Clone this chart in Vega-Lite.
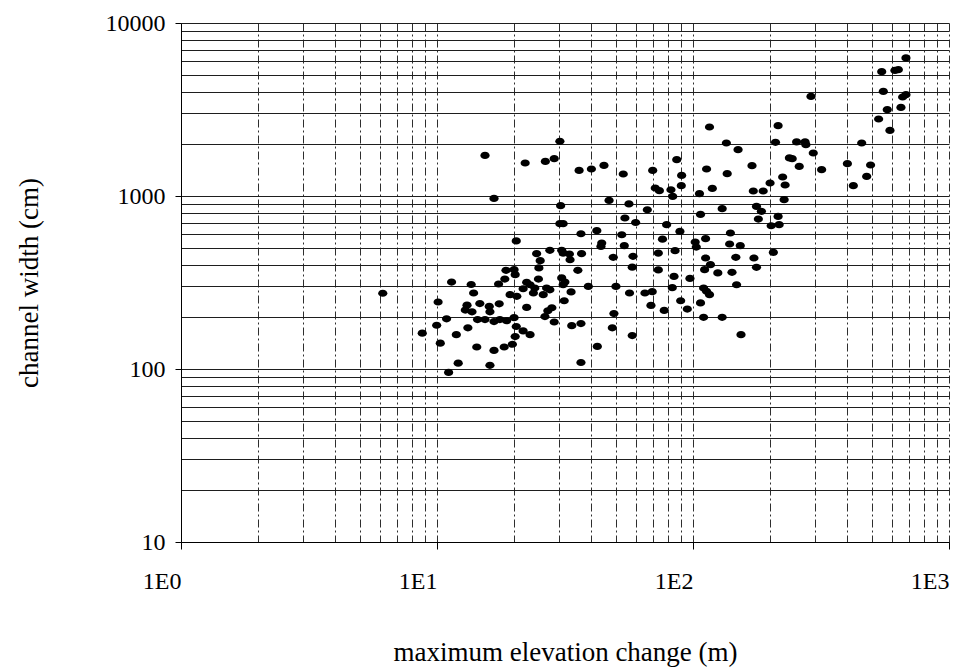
{
  "$schema": "https://vega.github.io/schema/vega-lite/v6.json",
  "width": 768,
  "height": 519,
  "autosize": {"type": "none"},
  "padding": {"left": 181, "top": 23, "right": 6, "bottom": 130},
  "background": "white",
  "config": {"view": {"stroke": null}},
  "data": {"values": [
    {"x":6.14,"y":274},
    {"x":11.4,"y":318},{"x":13.6,"y":308},{"x":13.9,"y":275},{"x":10.1,"y":244},{"x":13.1,"y":234},{"x":12.9,"y":219},{"x":13.7,"y":214},{"x":14.7,"y":239},{"x":16.0,"y":230},{"x":17.5,"y":238},{"x":16.1,"y":214},{"x":10.9,"y":195},{"x":14.4,"y":193},{"x":15.4,"y":193},{"x":16.7,"y":188},{"x":17.6,"y":193},{"x":18.7,"y":190},{"x":9.97,"y":179},{"x":13.2,"y":173},{"x":8.76,"y":161},{"x":11.9,"y":158},{"x":10.3,"y":141},{"x":14.3,"y":134},{"x":16.7,"y":128},{"x":18.3,"y":134},{"x":12.1,"y":108},{"x":16.1,"y":105},{"x":11.1,"y":95.5},{"x":18.6,"y":372},{"x":20.0,"y":375},{"x":20.2,"y":351},{"x":18.4,"y":331},{"x":17.4,"y":310},{"x":19.3,"y":269},{"x":20.5,"y":263},{"x":20.4,"y":176},{"x":20.2,"y":154},{"x":19.7,"y":139},
    {"x":30.2,"y":692},{"x":31.1,"y":692},{"x":36.5,"y":605},{"x":42.1,"y":630},{"x":52.7,"y":597},{"x":20.4,"y":550},{"x":44.0,"y":535},{"x":43.7,"y":511},{"x":53.9,"y":516},{"x":27.6,"y":485},{"x":24.5,"y":464},{"x":30.7,"y":485},{"x":31.1,"y":468},{"x":32.9,"y":462},{"x":36.7,"y":464},{"x":25.3,"y":423},{"x":33.1,"y":428},{"x":48.8,"y":442},{"x":58.3,"y":448},{"x":57.9,"y":388},{"x":25.0,"y":384},{"x":35.5,"y":372},{"x":30.7,"y":336},{"x":31.6,"y":318},{"x":31.1,"y":307},{"x":24.9,"y":331},{"x":22.4,"y":317},{"x":23.1,"y":307},{"x":21.7,"y":291},{"x":24.1,"y":294},{"x":23.8,"y":275},{"x":26.8,"y":294},{"x":27.6,"y":287},{"x":26.0,"y":269},{"x":39.0,"y":300},{"x":50.0,"y":300},{"x":33.4,"y":279},{"x":56.5,"y":275},{"x":31.4,"y":248},{"x":22.4,"y":227},{"x":28.1,"y":226},{"x":27.1,"y":217},{"x":26.4,"y":201},{"x":20.0,"y":198},{"x":49.1,"y":209},{"x":28.7,"y":187},{"x":33.6,"y":178},{"x":36.5,"y":183},{"x":21.7,"y":166},{"x":23.1,"y":158},{"x":48.4,"y":173},{"x":57.9,"y":156},{"x":42.3,"y":135},{"x":36.5,"y":109},
    {"x":30.2,"y":2070},{"x":15.4,"y":1717},{"x":22.1,"y":1552},{"x":26.5,"y":1585},{"x":28.7,"y":1643},{"x":35.9,"y":1406},{"x":40.1,"y":1432},{"x":44.9,"y":1503},{"x":53.4,"y":1340},{"x":16.7,"y":968},{"x":30.4,"y":879},{"x":47.0,"y":943},{"x":56.2,"y":900},{"x":54.2,"y":746},{"x":59.7,"y":703},
    {"x":116,"y":2505},{"x":215,"y":2550},{"x":135,"y":2024},{"x":210,"y":2042},{"x":150,"y":1852},{"x":86.4,"y":1622},{"x":238,"y":1659},{"x":69.6,"y":1406},{"x":113,"y":1432},{"x":136,"y":1346},{"x":170,"y":1497},{"x":90.3,"y":1315},{"x":224,"y":1288},{"x":200,"y":1189},{"x":229,"y":1158},{"x":71.2,"y":1112},{"x":73.9,"y":1073},{"x":82.0,"y":1087},{"x":83.3,"y":995},{"x":90.0,"y":1147},{"x":119,"y":1106},{"x":106,"y":1031},{"x":172,"y":1069},{"x":188,"y":1069},{"x":227,"y":952},{"x":66.3,"y":833},{"x":130,"y":845},{"x":177,"y":871},{"x":185,"y":815},{"x":107,"y":783},{"x":215,"y":762},{"x":180,"y":736},{"x":78.9,"y":683},{"x":202,"y":673},{"x":217,"y":683},{"x":88.9,"y":624},{"x":140,"y":611},{"x":76.0,"y":563},{"x":112,"y":567},{"x":102,"y":542},{"x":103,"y":507},{"x":139,"y":528},{"x":153,"y":516},{"x":206,"y":472},{"x":73.2,"y":468},{"x":85.1,"y":483},{"x":112,"y":438},{"x":147,"y":442},{"x":173,"y":438},{"x":177,"y":387},{"x":117,"y":401},{"x":111,"y":375},{"x":73.2,"y":374},{"x":125,"y":359},{"x":142,"y":362},{"x":84.3,"y":343},{"x":97.3,"y":334},{"x":148,"y":307},{"x":64.9,"y":275},{"x":69.3,"y":280},{"x":83.0,"y":295},{"x":110,"y":294},{"x":113,"y":281},{"x":116,"y":269},{"x":89.5,"y":248},{"x":107,"y":241},{"x":68.5,"y":233},{"x":77.2,"y":218},{"x":95.0,"y":222},{"x":110,"y":199},{"x":130,"y":199},{"x":154,"y":158},
    {"x":679,"y":6280},{"x":546,"y":5230},{"x":615,"y":5320},{"x":634,"y":5370},{"x":554,"y":4024},{"x":289,"y":3765},{"x":659,"y":3735},{"x":679,"y":3851},{"x":649,"y":3252},{"x":574,"y":3153},{"x":531,"y":2786},{"x":588,"y":2394},{"x":254,"y":2053},{"x":274,"y":2053},{"x":276,"y":1980},{"x":456,"y":2024},{"x":295,"y":1773},{"x":244,"y":1643},{"x":260,"y":1483},{"x":318,"y":1419},{"x":401,"y":1537},{"x":494,"y":1511},{"x":477,"y":1298},{"x":423,"y":1147}
  ]},
  "mark": {
    "type": "point",
    "filled": true,
    "color": "#000000",
    "opacity": 1,
    "size": 85,
    "shape": "M-1,0A1,0.78,0,1,0,1,0A1,0.78,0,1,0,-1,0Z"
  },
  "encoding": {
    "x": {
      "field": "x",
      "type": "quantitative",
      "scale": {"type": "log", "domain": [1, 1000], "nice": false},
      "axis": {
        "values": [1,2,3,4,5,6,7,8,9,10,20,30,40,50,60,70,80,90,100,200,300,400,500,600,700,800,900,1000],
        "grid": true,
        "gridColor": "#2e2e2e",
        "gridDash": [8, 3, 2, 3],
        "gridWidth": 1,
        "domain": true,
        "domainColor": "#000000",
        "domainWidth": 1,
        "ticks": true,
        "tickSize": 7,
        "tickColor": "#000000",
        "tickOpacity": {"condition": {"test": "indexof([1,10,100,1000], datum.value) >= 0", "value": 1}, "value": 0},
        "labelExpr": "indexof([1,10,100,1000], datum.value) >= 0 ? '1E' + round(log(datum.value)/LN10) : ''",
        "labelAlign": "right",
        "labelBaseline": "top",
        "labelFlush": false,
        "labelOverlap": false,
        "labelBound": false,
        "labelFont": "Liberation Serif",
        "labelFontSize": 24,
        "labelColor": "#000000",
        "labelPadding": 20,
        "title": "maximum elevation change (m)",
        "titleFont": "Liberation Serif",
        "titleFontSize": 27,
        "titleFontWeight": "normal",
        "titleColor": "#000000",
        "titlePadding": 46
      }
    },
    "y": {
      "field": "y",
      "type": "quantitative",
      "scale": {"type": "log", "domain": [10, 10000], "nice": false},
      "axis": {
        "values": [10,20,30,40,50,60,70,80,90,100,200,300,400,500,600,700,800,900,1000,2000,3000,4000,5000,6000,7000,8000,9000,10000],
        "grid": true,
        "gridColor": "#1e1e1e",
        "gridWidth": 1,
        "domain": true,
        "domainColor": "#000000",
        "domainWidth": 1,
        "ticks": true,
        "tickSize": 6,
        "tickColor": "#000000",
        "tickOpacity": {"condition": {"test": "indexof([10,100,1000,10000], datum.value) >= 0", "value": 1}, "value": 0},
        "labelExpr": "indexof([10,100,1000,10000], datum.value) >= 0 ? '' + datum.value : ''",
        "labelOverlap": false,
        "labelBound": false,
        "labelFlush": false,
        "labelFont": "Liberation Serif",
        "labelFontSize": 24,
        "labelColor": "#000000",
        "labelPadding": 10,
        "title": "channel width (cm)",
        "titleFont": "Liberation Serif",
        "titleFontSize": 27,
        "titleFontWeight": "normal",
        "titleColor": "#000000",
        "titlePadding": 62
      }
    }
  }
}
